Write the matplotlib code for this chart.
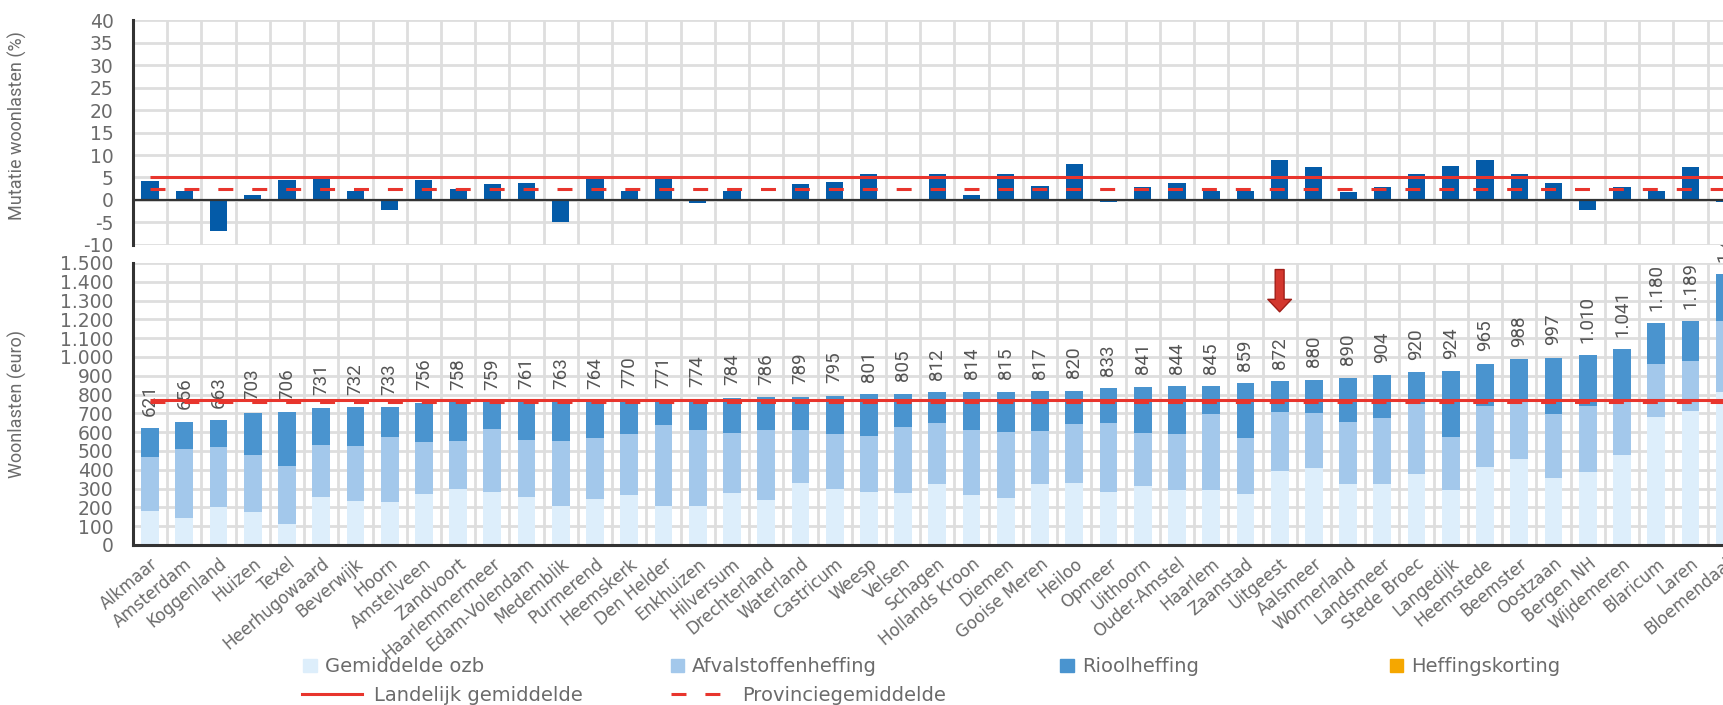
import matplotlib

matplotlib.use("Agg")

import matplotlib.pyplot as plt
import numpy as np
from matplotlib.lines import Line2D
from matplotlib.patches import Patch
from matplotlib.ticker import FixedLocator, FuncFormatter, MultipleLocator

plt.rcParams["font.family"] = ["DejaVu Sans"]
plt.rcParams["axes.unicode_minus"] = False

gemeenten = [
    "Alkmaar", "Amsterdam", "Koggenland", "Huizen", "Texel", "Heerhugowaard",
    "Beverwijk", "Hoorn", "Amstelveen", "Zandvoort", "Haarlemmermeer",
    "Edam-Volendam", "Medemblik", "Purmerend", "Heemskerk", "Den Helder",
    "Enkhuizen", "Hilversum", "Drechterland", "Waterland", "Castricum", "Weesp",
    "Velsen", "Schagen", "Hollands Kroon", "Diemen", "Gooise Meren", "Heiloo",
    "Opmeer", "Uithoorn", "Ouder-Amstel", "Haarlem", "Zaanstad", "Uitgeest",
    "Aalsmeer", "Wormerland", "Landsmeer", "Stede Broec", "Langedijk",
    "Heemstede", "Beemster", "Oostzaan", "Bergen NH", "Wijdemeren", "Blaricum",
    "Laren", "Bloemendaal",
]

# mutatie woonlasten t.o.v. vorig jaar (%)
mutatie = [
    4.3, 2.1, -7.0, 1.2, 4.5, 4.9, 2.1, -2.3, 4.5, 2.4, 3.5, 3.8, -4.8, 4.6,
    2.1, 4.9, -0.6, 2.1, 0.0, 3.5, 4.0, 5.7, 0.0, 5.7, 1.2, 5.7, 3.2, 8.0,
    -0.4, 2.9, 3.8, 2.1, 2.1, 8.8, 7.4, 1.8, 2.9, 5.7, 7.6, 9.0, 5.7, 3.8,
    -2.3, 2.9, 2.1, 7.4, -0.4,
]

# woonlasten per component (euro)
ozb = [
    180, 141, 201, 174, 114, 254, 236, 227, 273, 299, 280, 254, 208, 242,
    264, 208, 208, 275, 238, 327, 296, 282, 275, 322, 264, 252, 322, 327,
    282, 313, 292, 290, 269, 396, 407, 322, 322, 375, 292, 415, 458, 356,
    389, 481, 683, 713, 815,
]
afvalstoffenheffing = [
    287, 370, 318, 305, 307, 279, 290, 345, 273, 254, 338, 304, 345, 326,
    326, 428, 405, 320, 375, 286, 294, 299, 352, 326, 349, 348, 285, 314,
    369, 282, 298, 405, 300, 310, 294, 331, 352, 375, 282, 326, 304, 338,
    352, 280, 280, 268, 375,
]
rioolheffing = [
    154, 145, 144, 224, 285, 198, 206, 161, 210, 205, 141, 203, 210, 196,
    180, 135, 161, 189, 173, 176, 205, 220, 178, 164, 201, 215, 210, 179,
    182, 246, 254, 150, 290, 166, 179, 237, 230, 170, 350, 224, 226, 303,
    269, 280, 217, 208, 250,
]

landelijk_mutatie = 5.0
provincie_mutatie = 2.5
landelijk_woonlasten = 770
provincie_woonlasten = 758
gemarkeerd = "Uitgeest"

C_OZB = "#ddeefb"
C_AFVAL = "#a3c8eb"
C_RIOOL = "#4a94cf"
C_KORTING = "#f5a700"
C_MUTATIE = "#045ba8"
C_RED = "#e8352d"
C_GRID = "#dedede"
C_TEXT = "#6b6b6b"
NARROW = ["Liberation Sans Narrow", "Roboto"]


def euro(v, _pos=None):
    return f"{v:,.0f}".replace(",", ".")


x = np.arange(len(gemeenten))
ozb = np.array(ozb)
afval = np.array(afvalstoffenheffing)
riool = np.array(rioolheffing)
totaal = ozb + afval + riool

fig = plt.figure(figsize=(17.24, 7.05), dpi=100)
ax_bar = fig.add_axes([0.0771, 0.2270, 0.9332, 0.4000])
ax_mut = fig.add_axes([0.0771, 0.6525, 0.9332, 0.3191])

dash = (0, (4.9, 6.2))

# --- mutatie (top panel)
ax_mut.bar(x, mutatie, width=0.5, color=C_MUTATIE, zorder=2)
ax_mut.axhline(0, color="#333333", lw=1.6, zorder=3)
ax_mut.hlines(landelijk_mutatie, 0, len(x) - 1, color=C_RED, lw=2.2, zorder=4)
ax_mut.hlines(provincie_mutatie, 0, len(x) - 1, color=C_RED, lw=2.2,
              linestyles=[dash], zorder=4)
ax_mut.set_ylim(-10, 40)
ax_mut.yaxis.set_major_locator(MultipleLocator(5))
ax_mut.set_ylabel("Mutatie woonlasten (%)", family=NARROW, fontsize=13,
                  color=C_TEXT)

# --- woonlasten (bottom panel)
ax_bar.bar(x, ozb, width=0.52, color=C_OZB, zorder=2)
ax_bar.bar(x, afval, width=0.52, bottom=ozb, color=C_AFVAL, zorder=2)
ax_bar.bar(x, riool, width=0.52, bottom=ozb + afval, color=C_RIOOL, zorder=2)
ax_bar.hlines(landelijk_woonlasten, 0, len(x) - 1, color=C_RED, lw=2.2, zorder=4)
ax_bar.hlines(provincie_woonlasten, 0, len(x) - 1, color=C_RED, lw=2.2,
              linestyles=[dash], zorder=4)
for xi, tot in zip(x, totaal):
    ax_bar.annotate(euro(tot), (xi, tot), xytext=(0, 9), textcoords="offset points",
                    rotation=90, ha="center", va="bottom", fontsize=13.5,
                    family=NARROW, color="#555555", annotation_clip=False)

i = gemeenten.index(gemarkeerd)
ax_bar.annotate("", xy=(i, 1240), xytext=(i, 1465),
                arrowprops=dict(arrowstyle="simple,head_length=0.45,head_width=0.85,tail_width=0.32",
                                mutation_scale=20, fc="#d3372e", ec="#a01e18", lw=1,
                                shrinkA=0, shrinkB=0), zorder=5)

ax_bar.set_ylim(0, 1500)
ax_bar.yaxis.set_major_locator(MultipleLocator(100))
ax_bar.yaxis.set_major_formatter(FuncFormatter(euro))
ax_bar.set_ylabel("Woonlasten (euro)", family=NARROW, fontsize=13, color=C_TEXT)
ax_bar.set_xticks(x)
ax_bar.set_xticklabels(gemeenten, rotation=40, ha="right", rotation_mode="anchor",
                       fontsize=12, color=C_TEXT)
ax_bar.tick_params(axis="x", length=0, pad=7)

for ax in (ax_mut, ax_bar):
    ax.set_xlim(-0.5, len(x) - 0.5)
    ax.xaxis.set_minor_locator(FixedLocator(x[:-1] + 0.5))
    ax.grid(True, which="minor", axis="x", color=C_GRID, lw=2)
    ax.grid(True, which="major", axis="y", color=C_GRID, lw=2)
    ax.set_axisbelow(True)
    ax.tick_params(axis="y", length=0, pad=14, labelsize=13.5, labelcolor=C_TEXT)
    ax.tick_params(axis="x", which="minor", length=0)
    for side in ("top", "right"):
        ax.spines[side].set_visible(False)
    ax.spines["left"].set_color("#333333")
    ax.spines["left"].set_linewidth(2.2)

ax_mut.yaxis.set_label_coords(-0.066, 0.53)
ax_bar.yaxis.set_label_coords(-0.066, 0.5)
ax_mut.spines["bottom"].set_visible(False)
ax_mut.tick_params(axis="x", which="both", length=0, labelbottom=False)
ax_bar.spines["bottom"].set_color("#333333")
ax_bar.spines["bottom"].set_linewidth(2.2)

# legend entries placed one by one along two rows
sq = dict(handlelength=0.7, handleheight=0.7, handletextpad=0.4)
ln = dict(handlelength=3.1, handletextpad=0.6)
entries = [
    (Patch(color=C_OZB), "Gemiddelde ozb", 0.176, 0.054, sq),
    (Patch(color=C_AFVAL), "Afvalstoffenheffing", 0.389, 0.054, sq),
    (Patch(color=C_RIOOL), "Rioolheffing", 0.615, 0.054, sq),
    (Patch(color=C_KORTING), "Heffingskorting", 0.806, 0.054, sq),
    (Line2D([], [], color=C_RED, lw=2.2), "Landelijk gemiddelde", 0.175, 0.014, ln),
    (Line2D([], [], color=C_RED, lw=2.2, ls=dash), "Provinciegemiddelde", 0.389, 0.014, ln),
]
for handle, label, lx, ly, kw in entries:
    fig.legend(handles=[handle], labels=[label], loc="center left",
               bbox_to_anchor=(lx, ly), frameon=False, borderpad=0,
               borderaxespad=0, fontsize=14, labelcolor=C_TEXT, **kw)

fig.savefig("out.png", dpi=100)
